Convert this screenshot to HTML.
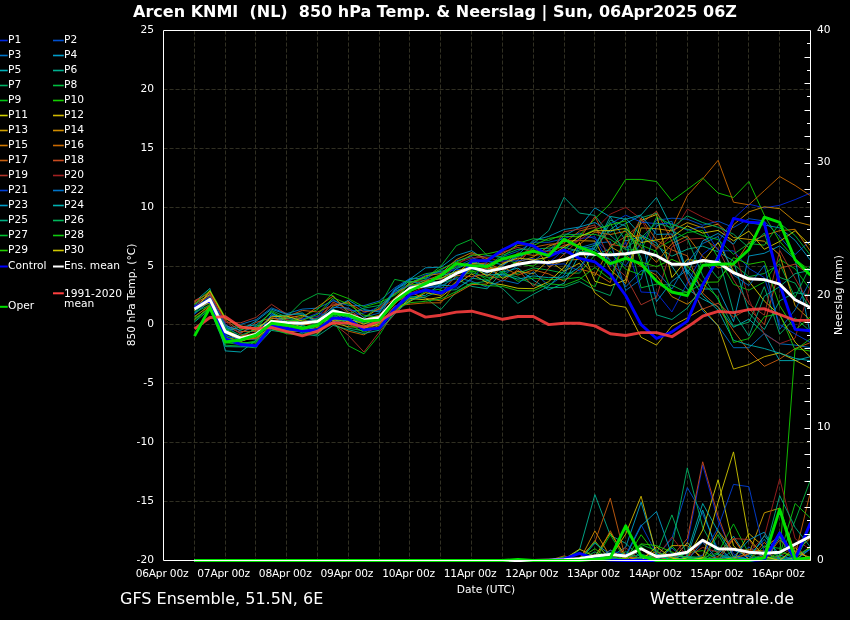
<!DOCTYPE html>
<html lang="nl"><head><meta charset="utf-8"><title>Arcen KNMI (NL) 850 hPa Temp. &amp; Neerslag</title>
<style>html,body{margin:0;padding:0;background:#000;}body{width:850px;height:620px;overflow:hidden;}svg{display:block;}text{font-family:"DejaVu Sans","Liberation Sans",sans-serif;fill:#fff;}</style></head><body>
<svg width="850" height="620" viewBox="0 0 850 620">
<rect width="850" height="620" fill="#000"/>
<g stroke="#302f22" stroke-width="1" stroke-dasharray="4.1,1.9" fill="none"><line x1="194.5" y1="30.5" x2="194.5" y2="560.5"/><line x1="225.5" y1="30.5" x2="225.5" y2="560.5"/><line x1="255.5" y1="30.5" x2="255.5" y2="560.5"/><line x1="286.5" y1="30.5" x2="286.5" y2="560.5"/><line x1="317.5" y1="30.5" x2="317.5" y2="560.5"/><line x1="348.5" y1="30.5" x2="348.5" y2="560.5"/><line x1="379.5" y1="30.5" x2="379.5" y2="560.5"/><line x1="409.5" y1="30.5" x2="409.5" y2="560.5"/><line x1="440.5" y1="30.5" x2="440.5" y2="560.5"/><line x1="471.5" y1="30.5" x2="471.5" y2="560.5"/><line x1="502.5" y1="30.5" x2="502.5" y2="560.5"/><line x1="533.5" y1="30.5" x2="533.5" y2="560.5"/><line x1="564.5" y1="30.5" x2="564.5" y2="560.5"/><line x1="594.5" y1="30.5" x2="594.5" y2="560.5"/><line x1="625.5" y1="30.5" x2="625.5" y2="560.5"/><line x1="656.5" y1="30.5" x2="656.5" y2="560.5"/><line x1="687.5" y1="30.5" x2="687.5" y2="560.5"/><line x1="718.5" y1="30.5" x2="718.5" y2="560.5"/><line x1="748.5" y1="30.5" x2="748.5" y2="560.5"/><line x1="779.5" y1="30.5" x2="779.5" y2="560.5"/><line x1="163.5" y1="89.5" x2="810.5" y2="89.5"/><line x1="163.5" y1="148.5" x2="810.5" y2="148.5"/><line x1="163.5" y1="207.5" x2="810.5" y2="207.5"/><line x1="163.5" y1="266.5" x2="810.5" y2="266.5"/><line x1="163.5" y1="324.5" x2="810.5" y2="324.5"/><line x1="163.5" y1="383.5" x2="810.5" y2="383.5"/><line x1="163.5" y1="442.5" x2="810.5" y2="442.5"/><line x1="163.5" y1="501.5" x2="810.5" y2="501.5"/></g>
<clipPath id="c"><rect x="163.5" y="29.5" width="647.5" height="534.0"/></clipPath>
<g clip-path="url(#c)">
<polyline points="194.5,560.5 209.9,560.5 225.3,560.5 240.7,560.5 256.1,560.5 271.5,560.5 286.9,560.5 302.3,560.5 317.7,560.5 333.1,560.5 348.5,560.5 363.9,560.5 379.3,560.5 394.7,560.5 410.1,560.5 425.5,560.5 440.9,560.5 456.3,560.5 471.7,560.5 487.1,560.5 502.5,560.5 517.9,560.5 533.3,560.5 548.7,560.5 564.1,560.5 579.5,560.5 594.9,560.4 610.3,560.5 625.7,559.1 641.1,560.0 656.5,557.3 671.9,559.2 687.3,543.3 702.7,465.1 718.1,520.8 733.5,553.9 748.9,560.5 764.3,560.5 779.7,558.5 795.1,560.4 810.5,560.5" fill="none" stroke="#0028e0" stroke-width="0.9" stroke-linejoin="round"/>
<polyline points="194.5,560.5 209.9,560.5 225.3,560.5 240.7,560.5 256.1,560.5 271.5,560.5 286.9,560.5 302.3,560.5 317.7,560.5 333.1,560.5 348.5,560.5 363.9,560.5 379.3,560.5 394.7,560.5 410.1,560.5 425.5,560.5 440.9,560.5 456.3,560.5 471.7,560.5 487.1,560.5 502.5,560.5 517.9,560.5 533.3,560.5 548.7,560.5 564.1,560.5 579.5,560.5 594.9,560.3 610.3,559.5 625.7,560.2 641.1,560.5 656.5,556.5 671.9,538.6 687.3,487.6 702.7,514.1 718.1,549.9 733.5,559.8 748.9,547.0 764.3,557.4 779.7,560.5 795.1,558.9 810.5,559.7" fill="none" stroke="#0050d0" stroke-width="0.9" stroke-linejoin="round"/>
<polyline points="194.5,560.5 209.9,560.5 225.3,560.5 240.7,560.5 256.1,560.5 271.5,560.5 286.9,560.5 302.3,560.5 317.7,560.5 333.1,560.5 348.5,560.5 363.9,560.5 379.3,560.5 394.7,560.5 410.1,560.5 425.5,560.5 440.9,560.5 456.3,560.5 471.7,560.5 487.1,560.5 502.5,560.5 517.9,560.5 533.3,560.5 548.7,560.5 564.1,560.4 579.5,560.5 594.9,560.5 610.3,560.5 625.7,560.5 641.1,548.8 656.5,560.5 671.9,548.0 687.3,560.5 702.7,560.5 718.1,560.5 733.5,550.3 748.9,556.5 764.3,560.5 779.7,558.4 795.1,559.4 810.5,557.1" fill="none" stroke="#0074c8" stroke-width="0.9" stroke-linejoin="round"/>
<polyline points="194.5,560.5 209.9,560.5 225.3,560.5 240.7,560.5 256.1,560.5 271.5,560.5 286.9,560.5 302.3,560.5 317.7,560.5 333.1,560.5 348.5,560.5 363.9,560.5 379.3,560.5 394.7,560.5 410.1,560.5 425.5,560.5 440.9,560.5 456.3,560.5 471.7,560.5 487.1,560.5 502.5,560.5 517.9,560.5 533.3,560.5 548.7,560.5 564.1,560.5 579.5,557.4 594.9,560.4 610.3,556.7 625.7,547.2 641.1,502.2 656.5,553.9 671.9,560.5 687.3,557.3 702.7,560.5 718.1,560.5 733.5,558.2 748.9,559.2 764.3,560.5 779.7,537.4 795.1,560.5 810.5,548.9" fill="none" stroke="#009cc8" stroke-width="0.9" stroke-linejoin="round"/>
<polyline points="194.5,560.5 209.9,560.5 225.3,560.5 240.7,560.5 256.1,560.5 271.5,560.5 286.9,560.5 302.3,560.5 317.7,560.5 333.1,560.5 348.5,560.5 363.9,560.5 379.3,560.5 394.7,560.5 410.1,560.5 425.5,560.5 440.9,560.5 456.3,560.5 471.7,560.5 487.1,560.5 502.5,560.5 517.9,560.5 533.3,560.5 548.7,560.5 564.1,558.3 579.5,560.5 594.9,560.5 610.3,552.4 625.7,560.5 641.1,560.5 656.5,560.5 671.9,560.5 687.3,556.5 702.7,510.1 718.1,553.9 733.5,536.2 748.9,560.2 764.3,559.3 779.7,531.7 795.1,559.9 810.5,548.4" fill="none" stroke="#00b0b8" stroke-width="0.9" stroke-linejoin="round"/>
<polyline points="194.5,560.5 209.9,560.5 225.3,560.5 240.7,560.5 256.1,560.5 271.5,560.5 286.9,560.5 302.3,560.5 317.7,560.5 333.1,560.5 348.5,560.5 363.9,560.5 379.3,560.5 394.7,560.5 410.1,560.5 425.5,560.5 440.9,560.5 456.3,560.5 471.7,560.5 487.1,560.5 502.5,560.5 517.9,560.5 533.3,560.5 548.7,560.5 564.1,560.5 579.5,549.9 594.9,494.6 610.3,535.3 625.7,543.3 641.1,557.9 656.5,560.5 671.9,560.5 687.3,558.1 702.7,560.5 718.1,546.8 733.5,560.5 748.9,560.5 764.3,560.5 779.7,560.5 795.1,550.8 810.5,558.3" fill="none" stroke="#00b090" stroke-width="0.9" stroke-linejoin="round"/>
<polyline points="194.5,560.5 209.9,560.5 225.3,560.5 240.7,560.5 256.1,560.5 271.5,560.5 286.9,560.5 302.3,560.5 317.7,560.5 333.1,560.5 348.5,560.5 363.9,560.5 379.3,560.5 394.7,560.5 410.1,560.5 425.5,560.5 440.9,560.5 456.3,560.5 471.7,560.5 487.1,560.5 502.5,560.5 517.9,560.5 533.3,560.5 548.7,560.5 564.1,560.5 579.5,560.5 594.9,560.5 610.3,559.6 625.7,558.4 641.1,554.3 656.5,557.9 671.9,547.2 687.3,467.8 702.7,527.4 718.1,555.2 733.5,559.9 748.9,560.5 764.3,560.5 779.7,559.4 795.1,557.3 810.5,546.8" fill="none" stroke="#00b064" stroke-width="0.9" stroke-linejoin="round"/>
<polyline points="194.5,560.5 209.9,560.5 225.3,560.5 240.7,560.5 256.1,560.5 271.5,560.5 286.9,560.5 302.3,560.5 317.7,560.5 333.1,560.5 348.5,560.5 363.9,560.5 379.3,560.5 394.7,560.5 410.1,560.5 425.5,560.5 440.9,560.5 456.3,560.5 471.7,560.5 487.1,560.5 502.5,560.5 517.9,560.5 533.3,560.5 548.7,560.5 564.1,560.5 579.5,560.5 594.9,558.3 610.3,560.5 625.7,560.5 641.1,560.5 656.5,560.5 671.9,557.7 687.3,560.5 702.7,560.5 718.1,560.5 733.5,557.6 748.9,560.5 764.3,560.0 779.7,557.9 795.1,520.8 810.5,479.7" fill="none" stroke="#00bc40" stroke-width="0.9" stroke-linejoin="round"/>
<polyline points="194.5,560.5 209.9,560.5 225.3,560.5 240.7,560.5 256.1,560.5 271.5,560.5 286.9,560.5 302.3,560.5 317.7,560.5 333.1,560.5 348.5,560.5 363.9,560.5 379.3,560.5 394.7,560.5 410.1,560.5 425.5,560.5 440.9,560.5 456.3,560.5 471.7,560.5 487.1,560.5 502.5,560.5 517.9,560.5 533.3,560.5 548.7,560.5 564.1,557.3 579.5,560.5 594.9,560.5 610.3,534.7 625.7,560.5 641.1,547.0 656.5,560.5 671.9,546.1 687.3,560.5 702.7,558.4 718.1,552.5 733.5,523.9 748.9,553.9 764.3,560.5 779.7,557.3 795.1,560.5 810.5,560.5" fill="none" stroke="#00c414" stroke-width="0.9" stroke-linejoin="round"/>
<polyline points="194.5,560.5 209.9,560.5 225.3,560.5 240.7,560.5 256.1,560.5 271.5,560.5 286.9,560.5 302.3,560.5 317.7,560.5 333.1,560.5 348.5,560.5 363.9,560.5 379.3,560.5 394.7,560.5 410.1,560.5 425.5,560.5 440.9,560.5 456.3,560.5 471.7,560.5 487.1,560.5 502.5,560.5 517.9,560.5 533.3,560.5 548.7,560.5 564.1,560.5 579.5,560.5 594.9,560.5 610.3,557.3 625.7,560.0 641.1,534.7 656.5,555.0 671.9,558.5 687.3,552.7 702.7,550.6 718.1,559.6 733.5,559.0 748.9,559.2 764.3,557.9 779.7,556.5 795.1,348.5 810.5,351.1" fill="none" stroke="#14d000" stroke-width="0.9" stroke-linejoin="round"/>
<polyline points="194.5,560.5 209.9,560.5 225.3,560.5 240.7,560.5 256.1,560.5 271.5,560.5 286.9,560.5 302.3,560.5 317.7,560.5 333.1,560.5 348.5,560.5 363.9,560.5 379.3,560.5 394.7,560.5 410.1,560.5 425.5,560.5 440.9,560.5 456.3,560.5 471.7,560.5 487.1,560.5 502.5,560.5 517.9,560.5 533.3,560.5 548.7,560.5 564.1,559.2 579.5,549.2 594.9,556.5 610.3,532.7 625.7,556.5 641.1,560.5 656.5,560.5 671.9,560.5 687.3,557.9 702.7,530.0 718.1,479.7 733.5,545.9 748.9,559.2 764.3,560.5 779.7,560.3 795.1,557.9 810.5,560.5" fill="none" stroke="#d0d000" stroke-width="0.9" stroke-linejoin="round"/>
<polyline points="194.5,560.5 209.9,560.5 225.3,560.5 240.7,560.5 256.1,560.5 271.5,560.5 286.9,560.5 302.3,560.5 317.7,560.5 333.1,560.5 348.5,560.5 363.9,560.5 379.3,560.5 394.7,560.5 410.1,560.5 425.5,560.5 440.9,560.5 456.3,560.5 471.7,560.5 487.1,560.5 502.5,560.5 517.9,560.5 533.3,560.5 548.7,560.5 564.1,560.5 579.5,560.5 594.9,559.8 610.3,557.9 625.7,534.0 641.1,496.2 656.5,555.2 671.9,560.5 687.3,542.5 702.7,560.5 718.1,560.5 733.5,560.5 748.9,533.5 764.3,547.3 779.7,536.2 795.1,552.4 810.5,557.4" fill="none" stroke="#d0b800" stroke-width="0.9" stroke-linejoin="round"/>
<polyline points="194.5,560.5 209.9,560.5 225.3,560.5 240.7,560.5 256.1,560.5 271.5,560.5 286.9,560.5 302.3,560.5 317.7,560.5 333.1,560.5 348.5,560.5 363.9,560.5 379.3,560.5 394.7,560.5 410.1,560.5 425.5,560.5 440.9,560.5 456.3,560.5 471.7,560.5 487.1,560.5 502.5,560.5 517.9,560.5 533.3,560.5 548.7,560.5 564.1,560.5 579.5,560.5 594.9,560.5 610.3,550.1 625.7,559.1 641.1,560.5 656.5,560.4 671.9,545.6 687.3,545.6 702.7,557.8 718.1,560.4 733.5,557.9 748.9,553.9 764.3,512.8 779.7,508.2 795.1,552.5 810.5,538.0" fill="none" stroke="#d0a000" stroke-width="0.9" stroke-linejoin="round"/>
<polyline points="194.5,560.5 209.9,560.5 225.3,560.5 240.7,560.5 256.1,560.5 271.5,560.5 286.9,560.5 302.3,560.5 317.7,560.5 333.1,560.5 348.5,560.5 363.9,560.5 379.3,560.5 394.7,560.5 410.1,560.5 425.5,560.5 440.9,560.5 456.3,560.5 471.7,560.5 487.1,560.5 502.5,560.5 517.9,560.5 533.3,560.5 548.7,560.5 564.1,560.5 579.5,560.5 594.9,530.9 610.3,556.7 625.7,557.0 641.1,560.5 656.5,559.1 671.9,560.5 687.3,560.5 702.7,560.0 718.1,530.8 733.5,550.3 748.9,549.9 764.3,551.0 779.7,560.5 795.1,560.5 810.5,560.5" fill="none" stroke="#d08c00" stroke-width="0.9" stroke-linejoin="round"/>
<polyline points="194.5,560.5 209.9,560.5 225.3,560.5 240.7,560.5 256.1,560.5 271.5,560.5 286.9,560.5 302.3,560.5 317.7,560.5 333.1,560.5 348.5,560.5 363.9,560.5 379.3,560.5 394.7,560.5 410.1,560.5 425.5,560.5 440.9,560.5 456.3,560.5 471.7,560.5 487.1,560.5 502.5,560.5 517.9,560.5 533.3,560.5 548.7,560.5 564.1,560.5 579.5,560.5 594.9,540.6 610.3,560.5 625.7,557.9 641.1,557.4 656.5,551.5 671.9,560.5 687.3,560.4 702.7,560.5 718.1,558.1 733.5,560.5 748.9,560.5 764.3,555.6 779.7,560.5 795.1,560.5 810.5,545.9" fill="none" stroke="#d07800" stroke-width="0.9" stroke-linejoin="round"/>
<polyline points="194.5,560.5 209.9,560.5 225.3,560.5 240.7,560.5 256.1,560.5 271.5,560.5 286.9,560.5 302.3,560.5 317.7,560.5 333.1,560.5 348.5,560.5 363.9,560.5 379.3,560.5 394.7,560.5 410.1,560.5 425.5,560.5 440.9,560.5 456.3,560.5 471.7,560.5 487.1,560.5 502.5,560.5 517.9,560.5 533.3,560.5 548.7,560.5 564.1,560.5 579.5,560.5 594.9,560.5 610.3,530.7 625.7,559.6 641.1,560.5 656.5,560.5 671.9,560.5 687.3,560.5 702.7,560.5 718.1,556.6 733.5,538.7 748.9,560.5 764.3,542.3 779.7,558.4 795.1,560.5 810.5,559.1" fill="none" stroke="#c86800" stroke-width="0.9" stroke-linejoin="round"/>
<polyline points="194.5,560.5 209.9,560.5 225.3,560.5 240.7,560.5 256.1,560.5 271.5,560.5 286.9,560.5 302.3,560.5 317.7,560.5 333.1,560.5 348.5,560.5 363.9,560.5 379.3,560.5 394.7,560.5 410.1,560.5 425.5,560.5 440.9,560.5 456.3,560.5 471.7,560.5 487.1,560.5 502.5,560.5 517.9,560.5 533.3,560.5 548.7,560.5 564.1,560.5 579.5,557.9 594.9,542.0 610.3,498.2 625.7,559.2 641.1,560.5 656.5,560.5 671.9,556.9 687.3,560.5 702.7,557.8 718.1,560.5 733.5,539.0 748.9,560.5 764.3,560.0 779.7,539.9 795.1,555.2 810.5,491.6" fill="none" stroke="#c86010" stroke-width="0.9" stroke-linejoin="round"/>
<polyline points="194.5,560.5 209.9,560.5 225.3,560.5 240.7,560.5 256.1,560.5 271.5,560.5 286.9,560.5 302.3,560.5 317.7,560.5 333.1,560.5 348.5,560.5 363.9,560.5 379.3,560.5 394.7,560.5 410.1,560.5 425.5,560.5 440.9,560.5 456.3,560.5 471.7,560.5 487.1,560.5 502.5,560.5 517.9,560.5 533.3,560.5 548.7,560.5 564.1,555.9 579.5,560.5 594.9,560.5 610.3,560.5 625.7,560.5 641.1,548.9 656.5,560.4 671.9,556.5 687.3,538.6 702.7,461.8 718.1,516.0 733.5,557.9 748.9,560.5 764.3,560.0 779.7,534.2 795.1,560.5 810.5,559.9" fill="none" stroke="#c84c20" stroke-width="0.9" stroke-linejoin="round"/>
<polyline points="194.5,560.5 209.9,560.5 225.3,560.5 240.7,560.5 256.1,560.5 271.5,560.5 286.9,560.5 302.3,560.5 317.7,560.5 333.1,560.5 348.5,560.5 363.9,560.5 379.3,560.5 394.7,560.5 410.1,560.5 425.5,560.5 440.9,560.5 456.3,560.5 471.7,560.5 487.1,560.5 502.5,560.5 517.9,560.5 533.3,560.5 548.7,560.5 564.1,560.5 579.5,560.5 594.9,560.5 610.3,558.7 625.7,560.2 641.1,560.5 656.5,557.2 671.9,555.9 687.3,556.8 702.7,547.4 718.1,552.3 733.5,538.5 748.9,539.6 764.3,560.5 779.7,556.8 795.1,545.5 810.5,560.5" fill="none" stroke="#b03428" stroke-width="0.9" stroke-linejoin="round"/>
<polyline points="194.5,560.5 209.9,560.5 225.3,560.5 240.7,560.5 256.1,560.5 271.5,560.5 286.9,560.5 302.3,560.5 317.7,560.5 333.1,560.5 348.5,560.5 363.9,560.5 379.3,560.5 394.7,560.5 410.1,560.5 425.5,560.5 440.9,560.5 456.3,560.5 471.7,560.5 487.1,560.5 502.5,560.5 517.9,560.5 533.3,560.5 548.7,560.5 564.1,560.5 579.5,558.6 594.9,556.2 610.3,560.5 625.7,547.8 641.1,560.5 656.5,556.9 671.9,537.1 687.3,556.7 702.7,541.5 718.1,560.5 733.5,560.5 748.9,552.5 764.3,536.6 779.7,478.7 795.1,538.6 810.5,549.9" fill="none" stroke="#a02020" stroke-width="0.9" stroke-linejoin="round"/>
<polyline points="194.5,560.5 209.9,560.5 225.3,560.5 240.7,560.5 256.1,560.5 271.5,560.5 286.9,560.5 302.3,560.5 317.7,560.5 333.1,560.5 348.5,560.5 363.9,560.5 379.3,560.5 394.7,560.5 410.1,560.5 425.5,560.5 440.9,560.5 456.3,560.5 471.7,560.5 487.1,560.5 502.5,560.5 517.9,560.5 533.3,560.5 548.7,560.5 564.1,560.5 579.5,560.5 594.9,560.5 610.3,550.3 625.7,555.2 641.1,524.7 656.5,553.9 671.9,560.5 687.3,560.5 702.7,555.2 718.1,527.4 733.5,484.4 748.9,486.7 764.3,552.5 779.7,560.5 795.1,555.7 810.5,549.4" fill="none" stroke="#0040d8" stroke-width="0.9" stroke-linejoin="round"/>
<polyline points="194.5,560.5 209.9,560.5 225.3,560.5 240.7,560.5 256.1,560.5 271.5,560.5 286.9,560.5 302.3,560.5 317.7,560.5 333.1,560.5 348.5,560.5 363.9,560.5 379.3,560.5 394.7,560.5 410.1,560.5 425.5,560.5 440.9,560.5 456.3,560.5 471.7,560.5 487.1,560.5 502.5,560.5 517.9,560.5 533.3,560.5 548.7,560.5 564.1,560.5 579.5,560.5 594.9,557.7 610.3,557.2 625.7,560.5 641.1,560.1 656.5,560.5 671.9,560.5 687.3,560.5 702.7,542.1 718.1,560.5 733.5,560.5 748.9,555.6 764.3,539.3 779.7,560.5 795.1,560.5 810.5,558.0" fill="none" stroke="#0074c8" stroke-width="0.9" stroke-linejoin="round"/>
<polyline points="194.5,560.5 209.9,560.5 225.3,560.5 240.7,560.5 256.1,560.5 271.5,560.5 286.9,560.5 302.3,560.5 317.7,560.5 333.1,560.5 348.5,560.5 363.9,560.5 379.3,560.5 394.7,560.5 410.1,560.5 425.5,560.5 440.9,560.5 456.3,560.5 471.7,560.5 487.1,560.5 502.5,560.5 517.9,560.5 533.3,560.5 548.7,560.5 564.1,560.5 579.5,560.5 594.9,543.2 610.3,554.5 625.7,556.5 641.1,526.0 656.5,511.5 671.9,555.2 687.3,556.8 702.7,559.7 718.1,558.3 733.5,557.1 748.9,539.9 764.3,532.2 779.7,558.9 795.1,560.5 810.5,560.5" fill="none" stroke="#009cc8" stroke-width="0.9" stroke-linejoin="round"/>
<polyline points="194.5,560.5 209.9,560.5 225.3,560.5 240.7,560.5 256.1,560.5 271.5,560.5 286.9,560.5 302.3,560.5 317.7,560.5 333.1,560.5 348.5,560.5 363.9,560.5 379.3,560.5 394.7,560.5 410.1,560.5 425.5,560.5 440.9,560.5 456.3,560.5 471.7,560.5 487.1,560.5 502.5,560.5 517.9,560.5 533.3,560.5 548.7,560.5 564.1,560.5 579.5,560.5 594.9,560.2 610.3,560.5 625.7,560.5 641.1,560.5 656.5,553.8 671.9,560.3 687.3,552.5 702.7,503.5 718.1,531.4 733.5,556.5 748.9,559.3 764.3,535.6 779.7,555.0 795.1,560.5 810.5,560.5" fill="none" stroke="#00b0b0" stroke-width="0.9" stroke-linejoin="round"/>
<polyline points="194.5,560.5 209.9,560.5 225.3,560.5 240.7,560.5 256.1,560.5 271.5,560.5 286.9,560.5 302.3,560.5 317.7,560.5 333.1,560.5 348.5,560.5 363.9,560.5 379.3,560.5 394.7,560.5 410.1,560.5 425.5,560.5 440.9,560.5 456.3,560.5 471.7,560.5 487.1,560.5 502.5,560.5 517.9,560.5 533.3,560.5 548.7,560.5 564.1,560.5 579.5,560.5 594.9,556.9 610.3,558.8 625.7,560.5 641.1,557.7 656.5,558.6 671.9,556.5 687.3,560.3 702.7,560.5 718.1,553.9 733.5,558.9 748.9,560.4 764.3,553.9 779.7,495.6 795.1,527.4 810.5,547.2" fill="none" stroke="#00b084" stroke-width="0.9" stroke-linejoin="round"/>
<polyline points="194.5,560.5 209.9,560.5 225.3,560.5 240.7,560.5 256.1,560.5 271.5,560.5 286.9,560.5 302.3,560.5 317.7,560.5 333.1,560.5 348.5,560.5 363.9,560.5 379.3,560.5 394.7,560.5 410.1,560.5 425.5,560.5 440.9,560.5 456.3,560.5 471.7,560.5 487.1,560.5 502.5,560.5 517.9,560.5 533.3,560.5 548.7,560.5 564.1,560.5 579.5,560.5 594.9,551.8 610.3,560.5 625.7,551.6 641.1,558.8 656.5,553.9 671.9,514.9 687.3,556.5 702.7,557.5 718.1,560.4 733.5,559.2 748.9,560.5 764.3,557.1 779.7,559.0 795.1,560.5 810.5,531.2" fill="none" stroke="#00b85c" stroke-width="0.9" stroke-linejoin="round"/>
<polyline points="194.5,560.5 209.9,560.5 225.3,560.5 240.7,560.5 256.1,560.5 271.5,560.5 286.9,560.5 302.3,560.5 317.7,560.5 333.1,560.5 348.5,560.5 363.9,560.5 379.3,560.5 394.7,560.5 410.1,560.5 425.5,560.5 440.9,560.5 456.3,560.5 471.7,560.5 487.1,560.5 502.5,560.5 517.9,560.5 533.3,560.5 548.7,560.5 564.1,560.5 579.5,560.5 594.9,541.6 610.3,560.5 625.7,560.5 641.1,544.5 656.5,550.6 671.9,560.5 687.3,560.5 702.7,560.5 718.1,534.6 733.5,560.5 748.9,560.5 764.3,545.9 779.7,548.4 795.1,560.5 810.5,560.5" fill="none" stroke="#00c030" stroke-width="0.9" stroke-linejoin="round"/>
<polyline points="194.5,560.5 209.9,560.5 225.3,560.5 240.7,560.5 256.1,560.5 271.5,560.5 286.9,560.5 302.3,560.5 317.7,560.5 333.1,560.5 348.5,560.5 363.9,560.5 379.3,560.5 394.7,560.5 410.1,560.5 425.5,560.5 440.9,560.5 456.3,560.5 471.7,560.5 487.1,560.5 502.5,560.5 517.9,560.5 533.3,560.5 548.7,560.5 564.1,556.9 579.5,560.5 594.9,560.5 610.3,556.1 625.7,560.0 641.1,546.0 656.5,560.3 671.9,560.5 687.3,560.5 702.7,560.0 718.1,558.7 733.5,560.5 748.9,560.5 764.3,560.5 779.7,555.2 795.1,503.5 810.5,518.1" fill="none" stroke="#10c810" stroke-width="0.9" stroke-linejoin="round"/>
<polyline points="194.5,560.5 209.9,560.5 225.3,560.5 240.7,560.5 256.1,560.5 271.5,560.5 286.9,560.5 302.3,560.5 317.7,560.5 333.1,560.5 348.5,560.5 363.9,560.5 379.3,560.5 394.7,560.5 410.1,560.5 425.5,560.5 440.9,560.5 456.3,560.5 471.7,560.5 487.1,560.5 502.5,560.5 517.9,560.5 533.3,560.5 548.7,560.5 564.1,560.5 579.5,558.5 594.9,548.7 610.3,560.5 625.7,557.8 641.1,543.8 656.5,545.6 671.9,552.1 687.3,558.1 702.7,558.1 718.1,560.5 733.5,559.0 748.9,560.5 764.3,560.5 779.7,552.1 795.1,556.6 810.5,547.7" fill="none" stroke="#24d000" stroke-width="0.9" stroke-linejoin="round"/>
<polyline points="194.5,560.5 209.9,560.5 225.3,560.5 240.7,560.5 256.1,560.5 271.5,560.5 286.9,560.5 302.3,560.5 317.7,560.5 333.1,560.5 348.5,560.5 363.9,560.5 379.3,560.5 394.7,560.5 410.1,560.5 425.5,560.5 440.9,560.5 456.3,560.5 471.7,560.5 487.1,560.5 502.5,560.5 517.9,560.5 533.3,560.5 548.7,560.5 564.1,560.5 579.5,560.5 594.9,560.5 610.3,560.5 625.7,560.5 641.1,560.5 656.5,546.8 671.9,558.0 687.3,560.5 702.7,557.9 718.1,502.2 733.5,451.9 748.9,538.6 764.3,556.5 779.7,560.5 795.1,547.6 810.5,560.5" fill="none" stroke="#d0c800" stroke-width="0.9" stroke-linejoin="round"/>
<polyline points="194.5,314.4 209.9,300.8 225.3,334.7 240.7,343.1 256.1,345.4 271.5,325.1 286.9,322.5 302.3,329.0 317.7,332.1 333.1,314.9 348.5,315.4 363.9,313.1 379.3,306.8 394.7,292.3 410.1,283.4 425.5,274.8 440.9,272.5 456.3,269.6 471.7,269.2 487.1,271.5 502.5,268.6 517.9,264.5 533.3,262.5 548.7,263.3 564.1,249.4 579.5,238.8 594.9,236.6 610.3,266.3 625.7,241.9 641.1,292.0 656.5,292.9 671.9,311.9 687.3,283.1 702.7,254.3 718.1,242.5 733.5,218.9 748.9,204.2 764.3,207.9 779.7,205.3 795.1,199.6 810.5,193.0" fill="none" stroke="#0028e0" stroke-width="0.9" stroke-linejoin="round"/>
<polyline points="194.5,308.3 209.9,297.5 225.3,333.9 240.7,338.2 256.1,339.9 271.5,313.8 286.9,318.9 302.3,318.5 317.7,316.5 333.1,299.3 348.5,310.3 363.9,310.7 379.3,310.7 394.7,289.0 410.1,279.2 425.5,277.8 440.9,279.3 456.3,266.7 471.7,259.1 487.1,255.5 502.5,256.8 517.9,251.2 533.3,242.2 548.7,242.3 564.1,238.6 579.5,233.0 594.9,238.8 610.3,253.7 625.7,265.9 641.1,242.8 656.5,220.2 671.9,218.2 687.3,219.2 702.7,225.2 718.1,221.2 733.5,227.5 748.9,218.7 764.3,221.0 779.7,236.9 795.1,254.5 810.5,240.5" fill="none" stroke="#0050d0" stroke-width="0.9" stroke-linejoin="round"/>
<polyline points="194.5,304.9 209.9,294.1 225.3,329.6 240.7,324.4 256.1,319.7 271.5,307.9 286.9,313.6 302.3,309.1 317.7,308.1 333.1,300.7 348.5,305.6 363.9,305.6 379.3,301.0 394.7,287.9 410.1,278.3 425.5,278.8 440.9,270.2 456.3,260.9 471.7,256.6 487.1,269.7 502.5,275.8 517.9,265.4 533.3,261.2 548.7,249.9 564.1,253.5 579.5,247.9 594.9,243.3 610.3,241.7 625.7,290.4 641.1,279.2 656.5,225.8 671.9,221.3 687.3,276.7 702.7,310.8 718.1,325.7 733.5,347.7 748.9,347.7 764.3,333.4 779.7,343.8 795.1,345.1 810.5,347.7" fill="none" stroke="#0074c8" stroke-width="0.9" stroke-linejoin="round"/>
<polyline points="194.5,313.4 209.9,301.4 225.3,326.8 240.7,332.5 256.1,326.1 271.5,323.3 286.9,328.1 302.3,329.9 317.7,329.7 333.1,313.2 348.5,318.0 363.9,320.0 379.3,316.8 394.7,290.4 410.1,279.0 425.5,267.8 440.9,267.2 456.3,255.5 471.7,250.7 487.1,261.3 502.5,264.8 517.9,256.4 533.3,252.3 548.7,250.7 564.1,235.7 579.5,227.3 594.9,207.9 610.3,216.9 625.7,240.9 641.1,236.8 656.5,301.7 671.9,281.3 687.3,269.9 702.7,289.0 718.1,289.0 733.5,321.6 748.9,256.0 764.3,253.3 779.7,245.9 795.1,259.3 810.5,335.1" fill="none" stroke="#009cc8" stroke-width="0.9" stroke-linejoin="round"/>
<polyline points="194.5,301.9 209.9,288.4 225.3,350.9 240.7,352.0 256.1,340.3 271.5,330.2 286.9,326.4 302.3,332.9 317.7,325.4 333.1,311.2 348.5,317.0 363.9,323.2 379.3,322.7 394.7,307.0 410.1,297.2 425.5,295.3 440.9,283.9 456.3,268.7 471.7,262.4 487.1,265.5 502.5,272.1 517.9,268.1 533.3,280.1 548.7,289.8 564.1,283.2 579.5,254.1 594.9,247.5 610.3,229.7 625.7,218.2 641.1,235.3 656.5,242.9 671.9,266.1 687.3,289.0 702.7,299.1 718.1,306.7 733.5,327.3 748.9,319.1 764.3,333.4 779.7,360.6 795.1,360.6 810.5,356.7" fill="none" stroke="#00b0b8" stroke-width="0.9" stroke-linejoin="round"/>
<polyline points="194.5,305.6 209.9,303.4 225.3,331.5 240.7,339.9 256.1,332.2 271.5,315.9 286.9,315.2 302.3,312.9 317.7,323.6 333.1,309.3 348.5,314.4 363.9,320.8 379.3,320.1 394.7,300.4 410.1,286.7 425.5,279.7 440.9,282.9 456.3,278.8 471.7,286.4 487.1,288.8 502.5,271.7 517.9,260.2 533.3,243.7 548.7,230.7 564.1,197.3 579.5,213.1 594.9,215.4 610.3,235.4 625.7,248.4 641.1,236.9 656.5,245.7 671.9,256.2 687.3,249.2 702.7,246.1 718.1,251.8 733.5,260.9 748.9,313.0 764.3,329.5 779.7,300.8 795.1,292.6 810.5,295.1" fill="none" stroke="#00b090" stroke-width="0.9" stroke-linejoin="round"/>
<polyline points="194.5,310.3 209.9,298.5 225.3,333.1 240.7,338.5 256.1,334.2 271.5,323.8 286.9,329.9 302.3,331.9 317.7,334.7 333.1,318.0 348.5,328.2 363.9,330.9 379.3,327.9 394.7,311.3 410.1,297.0 425.5,298.0 440.9,309.5 456.3,292.0 471.7,283.6 487.1,281.2 502.5,273.3 517.9,277.1 533.3,284.3 548.7,287.7 564.1,287.4 579.5,281.5 594.9,289.9 610.3,295.6 625.7,255.8 641.1,217.8 656.5,213.2 671.9,230.8 687.3,238.4 702.7,275.6 718.1,299.6 733.5,326.3 748.9,322.2 764.3,286.7 779.7,334.2 795.1,317.9 810.5,331.4" fill="none" stroke="#00b064" stroke-width="0.9" stroke-linejoin="round"/>
<polyline points="194.5,312.5 209.9,304.9 225.3,345.2 240.7,346.1 256.1,347.9 271.5,323.1 286.9,316.7 302.3,301.4 317.7,293.6 333.1,295.5 348.5,313.2 363.9,330.8 379.3,322.6 394.7,309.9 410.1,288.1 425.5,282.3 440.9,277.6 456.3,276.3 471.7,272.6 487.1,277.3 502.5,277.2 517.9,273.2 533.3,267.9 548.7,270.1 564.1,273.2 579.5,273.1 594.9,255.1 610.3,248.9 625.7,228.7 641.1,287.8 656.5,284.2 671.9,285.2 687.3,292.8 702.7,259.2 718.1,278.4 733.5,264.3 748.9,276.7 764.3,273.5 779.7,263.9 795.1,297.4 810.5,265.3" fill="none" stroke="#00bc40" stroke-width="0.9" stroke-linejoin="round"/>
<polyline points="194.5,317.4 209.9,304.1 225.3,338.9 240.7,343.8 256.1,340.9 271.5,319.4 286.9,328.9 302.3,326.5 317.7,317.8 333.1,320.2 348.5,345.8 363.9,353.8 379.3,335.2 394.7,310.8 410.1,300.7 425.5,291.4 440.9,289.0 456.3,273.2 471.7,270.2 487.1,279.8 502.5,271.1 517.9,281.3 533.3,278.0 548.7,279.7 564.1,279.1 579.5,277.3 594.9,287.0 610.3,251.3 625.7,269.4 641.1,274.9 656.5,248.6 671.9,240.4 687.3,232.5 702.7,230.5 718.1,257.9 733.5,284.3 748.9,290.2 764.3,282.0 779.7,259.4 795.1,268.8 810.5,290.1" fill="none" stroke="#00c414" stroke-width="0.9" stroke-linejoin="round"/>
<polyline points="194.5,309.2 209.9,298.0 225.3,328.7 240.7,337.5 256.1,337.1 271.5,327.2 286.9,323.1 302.3,316.4 317.7,309.4 333.1,292.8 348.5,298.6 363.9,306.9 379.3,302.5 394.7,295.3 410.1,284.1 425.5,285.4 440.9,281.4 456.3,273.6 471.7,271.4 487.1,270.5 502.5,258.2 517.9,263.9 533.3,266.0 548.7,255.8 564.1,249.6 579.5,235.4 594.9,218.9 610.3,203.6 625.7,179.4 641.1,179.4 656.5,181.5 671.9,200.9 687.3,189.5 702.7,178.1 718.1,193.0 733.5,197.5 748.9,181.5 764.3,215.1 779.7,241.3 795.1,259.0 810.5,270.8" fill="none" stroke="#14d000" stroke-width="0.9" stroke-linejoin="round"/>
<polyline points="194.5,309.0 209.9,299.5 225.3,332.4 240.7,341.1 256.1,336.3 271.5,320.8 286.9,321.8 302.3,327.3 317.7,333.4 333.1,319.2 348.5,321.4 363.9,328.4 379.3,323.7 394.7,312.5 410.1,298.5 425.5,299.8 440.9,297.2 456.3,284.7 471.7,273.9 487.1,282.6 502.5,284.8 517.9,288.3 533.3,288.7 548.7,281.7 564.1,267.4 579.5,242.5 594.9,281.3 610.3,285.8 625.7,279.9 641.1,220.4 656.5,214.5 671.9,277.5 687.3,259.2 702.7,262.2 718.1,242.6 733.5,271.0 748.9,281.1 764.3,301.0 779.7,315.1 795.1,342.1 810.5,357.1" fill="none" stroke="#d0d000" stroke-width="0.9" stroke-linejoin="round"/>
<polyline points="194.5,303.6 209.9,294.8 225.3,330.3 240.7,336.9 256.1,328.4 271.5,318.6 286.9,318.2 302.3,315.3 317.7,320.0 333.1,311.7 348.5,322.7 363.9,326.2 379.3,325.7 394.7,309.1 410.1,301.3 425.5,292.7 440.9,295.4 456.3,281.6 471.7,263.5 487.1,264.2 502.5,278.6 517.9,271.3 533.3,273.8 548.7,260.5 564.1,271.2 579.5,263.1 594.9,292.9 610.3,304.7 625.7,307.3 641.1,337.3 656.5,345.1 671.9,326.1 687.3,317.9 702.7,308.5 718.1,325.7 733.5,369.1 748.9,364.5 764.3,356.7 779.7,352.9 795.1,360.3 810.5,368.4" fill="none" stroke="#d0b800" stroke-width="0.9" stroke-linejoin="round"/>
<polyline points="194.5,319.6 209.9,306.5 225.3,341.3 240.7,340.5 256.1,338.0 271.5,326.5 286.9,331.8 302.3,330.9 317.7,327.4 333.1,322.8 348.5,326.8 363.9,327.3 379.3,321.0 394.7,304.1 410.1,289.7 425.5,287.1 440.9,282.2 456.3,274.3 471.7,260.2 487.1,267.8 502.5,269.3 517.9,262.0 533.3,257.0 548.7,246.2 564.1,240.8 579.5,240.7 594.9,241.1 610.3,269.5 625.7,283.4 641.1,227.9 656.5,228.7 671.9,230.9 687.3,222.6 702.7,227.8 718.1,224.2 733.5,237.5 748.9,239.4 764.3,241.2 779.7,254.9 795.1,305.8 810.5,320.4" fill="none" stroke="#d0a000" stroke-width="0.9" stroke-linejoin="round"/>
<polyline points="194.5,309.6 209.9,302.7 225.3,337.8 240.7,341.7 256.1,334.5 271.5,322.7 286.9,322.7 302.3,322.6 317.7,320.7 333.1,306.1 348.5,301.5 363.9,318.0 379.3,308.2 394.7,293.4 410.1,284.8 425.5,275.8 440.9,273.6 456.3,259.6 471.7,252.6 487.1,258.6 502.5,253.7 517.9,245.4 533.3,243.9 548.7,266.6 564.1,260.5 579.5,259.3 594.9,275.7 610.3,246.5 625.7,255.4 641.1,266.4 656.5,275.4 671.9,296.6 687.3,304.2 702.7,292.4 718.1,255.2 733.5,224.8 748.9,211.9 764.3,206.8 779.7,208.7 795.1,221.5 810.5,225.4" fill="none" stroke="#d08c00" stroke-width="0.9" stroke-linejoin="round"/>
<polyline points="194.5,316.4 209.9,305.7 225.3,340.1 240.7,336.1 256.1,333.0 271.5,321.5 286.9,324.9 302.3,317.5 317.7,306.8 333.1,296.1 348.5,312.2 363.9,319.4 379.3,315.1 394.7,300.0 410.1,292.5 425.5,298.2 440.9,300.9 456.3,293.4 471.7,284.6 487.1,284.1 502.5,264.7 517.9,253.0 533.3,255.4 548.7,253.6 564.1,245.1 579.5,244.4 594.9,232.0 610.3,234.5 625.7,231.3 641.1,247.7 656.5,262.3 671.9,243.6 687.3,235.9 702.7,256.6 718.1,267.8 733.5,265.7 748.9,242.5 764.3,235.4 779.7,230.7 795.1,229.3 810.5,251.3" fill="none" stroke="#d07800" stroke-width="0.9" stroke-linejoin="round"/>
<polyline points="194.5,306.2 209.9,295.6 225.3,331.8 240.7,338.0 256.1,338.9 271.5,328.0 286.9,325.6 302.3,323.8 317.7,326.4 333.1,324.1 348.5,331.2 363.9,334.9 379.3,324.7 394.7,306.0 410.1,304.2 425.5,302.9 440.9,302.8 456.3,283.1 471.7,268.4 487.1,268.8 502.5,266.7 517.9,275.1 533.3,269.8 548.7,273.9 564.1,281.2 579.5,269.0 594.9,272.9 610.3,282.6 625.7,236.6 641.1,235.7 656.5,248.4 671.9,228.4 687.3,195.7 702.7,178.9 718.1,160.3 733.5,202.2 748.9,204.8 764.3,190.7 779.7,176.5 795.1,185.4 810.5,195.7" fill="none" stroke="#c86800" stroke-width="0.9" stroke-linejoin="round"/>
<polyline points="194.5,302.1 209.9,291.7 225.3,320.0 240.7,331.5 256.1,331.4 271.5,321.3 286.9,316.8 302.3,310.4 317.7,312.0 333.1,304.9 348.5,302.9 363.9,311.9 379.3,309.5 394.7,298.7 410.1,281.8 425.5,280.6 440.9,274.6 456.3,264.5 471.7,264.4 487.1,262.9 502.5,270.1 517.9,263.1 533.3,247.3 548.7,244.3 564.1,243.0 579.5,231.0 594.9,227.3 610.3,244.1 625.7,247.1 641.1,218.0 656.5,240.1 671.9,249.9 687.3,255.8 702.7,293.1 718.1,307.3 733.5,330.8 748.9,350.9 764.3,366.3 779.7,359.1 795.1,348.5 810.5,342.6" fill="none" stroke="#c86010" stroke-width="0.9" stroke-linejoin="round"/>
<polyline points="194.5,300.6 209.9,293.3 225.3,324.7 240.7,333.5 256.1,322.4 271.5,317.8 286.9,320.2 302.3,325.0 317.7,321.3 333.1,302.2 348.5,309.2 363.9,320.3 379.3,317.7 394.7,302.5 410.1,294.8 425.5,289.1 440.9,293.7 456.3,275.2 471.7,276.7 487.1,273.9 502.5,281.6 517.9,269.6 533.3,286.5 548.7,268.3 564.1,254.1 579.5,239.0 594.9,216.6 610.3,246.0 625.7,236.6 641.1,223.7 656.5,211.3 671.9,241.0 687.3,280.2 702.7,309.1 718.1,303.2 733.5,317.0 748.9,308.5 764.3,324.7 779.7,268.4 795.1,264.1 810.5,275.3" fill="none" stroke="#c84c20" stroke-width="0.9" stroke-linejoin="round"/>
<polyline points="194.5,301.4 209.9,292.6 225.3,322.4 240.7,322.8 256.1,317.4 271.5,304.3 286.9,314.3 302.3,319.4 317.7,324.4 333.1,323.2 348.5,335.5 363.9,352.0 379.3,332.0 394.7,314.1 410.1,286.2 425.5,283.8 440.9,276.6 456.3,265.6 471.7,254.0 487.1,260.1 502.5,252.1 517.9,247.4 533.3,252.2 548.7,255.4 564.1,231.8 579.5,229.0 594.9,224.9 610.3,263.0 625.7,276.4 641.1,304.8 656.5,297.3 671.9,246.7 687.3,239.2 702.7,238.3 718.1,248.7 733.5,279.6 748.9,303.9 764.3,315.2 779.7,250.4 795.1,278.3 810.5,305.0" fill="none" stroke="#b03428" stroke-width="0.9" stroke-linejoin="round"/>
<polyline points="194.5,302.9 209.9,296.9 225.3,321.2 240.7,334.4 256.1,335.6 271.5,322.2 286.9,319.5 302.3,323.1 317.7,317.5 333.1,303.6 348.5,313.1 363.9,325.1 379.3,329.1 394.7,310.2 410.1,293.6 425.5,286.3 440.9,280.7 456.3,263.3 471.7,257.9 487.1,257.1 502.5,262.3 517.9,259.4 533.3,250.6 548.7,251.8 564.1,245.8 579.5,240.1 594.9,229.5 610.3,214.1 625.7,207.4 641.1,218.9 656.5,249.7 671.9,235.2 687.3,209.1 702.7,217.1 718.1,223.7 733.5,245.6 748.9,299.3 764.3,334.2 779.7,343.7 795.1,338.1 810.5,285.2" fill="none" stroke="#a02020" stroke-width="0.9" stroke-linejoin="round"/>
<polyline points="194.5,307.8 209.9,296.2 225.3,323.6 240.7,339.0 256.1,335.0 271.5,325.8 286.9,321.3 302.3,319.5 317.7,313.1 333.1,317.0 348.5,314.8 363.9,318.8 379.3,318.7 394.7,299.4 410.1,288.4 425.5,285.7 440.9,287.6 456.3,288.0 471.7,279.7 487.1,261.5 502.5,261.0 517.9,260.8 533.3,258.5 548.7,264.9 564.1,263.8 579.5,271.1 594.9,243.0 610.3,223.7 625.7,215.2 641.1,222.1 656.5,223.7 671.9,223.7 687.3,230.1 702.7,226.5 718.1,250.7 733.5,250.9 748.9,268.4 764.3,277.6 779.7,324.6 795.1,334.0 810.5,342.4" fill="none" stroke="#0040d8" stroke-width="0.9" stroke-linejoin="round"/>
<polyline points="194.5,307.3 209.9,300.3 225.3,335.7 240.7,339.4 256.1,333.7 271.5,314.8 286.9,323.6 302.3,322.0 317.7,318.4 333.1,307.3 348.5,308.0 363.9,317.1 379.3,313.1 394.7,291.3 410.1,285.5 425.5,288.0 440.9,286.2 456.3,277.5 471.7,281.3 487.1,287.2 502.5,280.1 517.9,283.6 533.3,271.8 548.7,285.7 564.1,275.1 579.5,246.2 594.9,249.6 610.3,259.8 625.7,286.9 641.1,270.7 656.5,271.0 671.9,289.0 687.3,262.5 702.7,243.5 718.1,236.5 733.5,275.0 748.9,285.6 764.3,265.4 779.7,329.4 795.1,309.8 810.5,280.2" fill="none" stroke="#0074c8" stroke-width="0.9" stroke-linejoin="round"/>
<polyline points="194.5,306.8 209.9,299.0 225.3,325.8 240.7,330.4 256.1,321.1 271.5,309.2 286.9,314.4 302.3,314.1 317.7,322.1 333.1,308.4 348.5,300.1 363.9,309.5 379.3,311.9 394.7,290.2 410.1,281.0 425.5,284.9 440.9,285.0 456.3,286.3 471.7,265.3 487.1,273.0 502.5,265.8 517.9,254.7 533.3,240.4 548.7,236.4 564.1,229.5 579.5,227.0 594.9,222.5 610.3,232.1 625.7,223.4 641.1,215.5 656.5,234.4 671.9,234.0 687.3,273.7 702.7,240.9 718.1,233.4 733.5,244.2 748.9,222.8 764.3,225.0 779.7,227.9 795.1,240.3 810.5,260.4" fill="none" stroke="#009cc8" stroke-width="0.9" stroke-linejoin="round"/>
<polyline points="194.5,311.7 209.9,299.8 225.3,331.0 240.7,326.9 256.1,324.9 271.5,312.7 286.9,322.2 302.3,325.7 317.7,330.9 333.1,321.6 348.5,320.2 363.9,321.5 379.3,319.4 394.7,303.3 410.1,287.3 425.5,283.1 440.9,275.7 456.3,272.1 471.7,267.3 487.1,274.9 502.5,274.5 517.9,279.2 533.3,275.9 548.7,277.7 564.1,277.1 579.5,267.0 594.9,247.4 610.3,216.4 625.7,219.3 641.1,214.9 656.5,197.5 671.9,227.9 687.3,271.8 702.7,295.7 718.1,310.2 733.5,340.3 748.9,345.0 764.3,348.5 779.7,353.2 795.1,358.3 810.5,360.8" fill="none" stroke="#00b0b0" stroke-width="0.9" stroke-linejoin="round"/>
<polyline points="194.5,322.0 209.9,309.2 225.3,346.6 240.7,346.9 256.1,346.6 271.5,330.4 286.9,332.8 302.3,333.9 317.7,336.0 333.1,325.4 348.5,329.7 363.9,333.5 379.3,330.2 394.7,313.7 410.1,299.9 425.5,296.8 440.9,290.5 456.3,289.7 471.7,278.1 487.1,280.3 502.5,288.4 517.9,303.4 533.3,294.3 548.7,286.1 564.1,270.8 579.5,249.6 594.9,245.4 610.3,220.1 625.7,226.1 641.1,257.9 656.5,314.8 671.9,319.5 687.3,308.1 702.7,285.7 718.1,254.9 733.5,312.3 748.9,335.9 764.3,296.2 779.7,286.6 795.1,273.6 810.5,270.3" fill="none" stroke="#00b084" stroke-width="0.9" stroke-linejoin="round"/>
<polyline points="194.5,308.6 209.9,299.3 225.3,327.8 240.7,335.3 256.1,329.4 271.5,310.4 286.9,317.5 302.3,323.4 317.7,319.3 333.1,310.2 348.5,313.8 363.9,308.2 379.3,305.4 394.7,294.4 410.1,280.1 425.5,273.7 440.9,271.4 456.3,267.7 471.7,261.4 487.1,266.6 502.5,255.2 517.9,249.3 533.3,249.0 548.7,248.1 564.1,247.3 579.5,251.3 594.9,251.5 610.3,222.5 625.7,258.9 641.1,237.8 656.5,223.0 671.9,227.7 687.3,215.9 702.7,222.6 718.1,227.3 733.5,234.2 748.9,247.7 764.3,233.1 779.7,277.4 795.1,283.1 810.5,309.4" fill="none" stroke="#00b85c" stroke-width="0.9" stroke-linejoin="round"/>
<polyline points="194.5,320.8 209.9,307.4 225.3,342.6 240.7,344.6 256.1,342.0 271.5,324.5 286.9,330.8 302.3,328.1 317.7,322.8 333.1,314.0 348.5,325.3 363.9,317.9 379.3,306.1 394.7,279.4 410.1,282.5 425.5,278.1 440.9,266.1 456.3,245.7 471.7,239.2 487.1,255.5 502.5,257.6 517.9,243.3 533.3,238.7 548.7,240.4 564.1,234.1 579.5,234.9 594.9,234.3 610.3,239.3 625.7,249.7 641.1,250.2 656.5,217.3 671.9,224.5 687.3,229.2 702.7,235.7 718.1,239.6 733.5,254.3 748.9,243.5 764.3,245.2 779.7,223.3 795.1,235.5 810.5,255.4" fill="none" stroke="#00c030" stroke-width="0.9" stroke-linejoin="round"/>
<polyline points="194.5,318.5 209.9,308.3 225.3,336.7 240.7,342.4 256.1,343.1 271.5,328.8 286.9,333.8 302.3,335.0 317.7,328.5 333.1,315.9 348.5,324.0 363.9,332.2 379.3,326.8 394.7,308.0 410.1,302.7 425.5,301.3 440.9,299.0 456.3,291.5 471.7,282.9 487.1,285.6 502.5,286.4 517.9,290.7 533.3,290.9 548.7,283.7 564.1,285.3 579.5,279.4 594.9,267.5 610.3,279.3 625.7,234.0 641.1,245.2 656.5,251.4 671.9,292.8 687.3,292.1 702.7,283.7 718.1,297.3 733.5,342.5 748.9,338.6 764.3,316.7 779.7,313.5 795.1,350.2 810.5,338.7" fill="none" stroke="#10c810" stroke-width="0.9" stroke-linejoin="round"/>
<polyline points="194.5,304.3 209.9,290.0 225.3,317.4 240.7,329.3 256.1,327.3 271.5,311.5 286.9,320.7 302.3,320.4 317.7,314.3 333.1,297.7 348.5,304.2 363.9,315.2 379.3,317.3 394.7,300.7 410.1,282.6 425.5,276.8 440.9,269.0 456.3,262.1 471.7,255.3 487.1,253.9 502.5,250.4 517.9,241.2 533.3,245.6 548.7,238.4 564.1,236.3 579.5,236.8 594.9,229.6 610.3,224.9 625.7,220.8 641.1,262.1 656.5,266.6 671.9,259.4 687.3,266.1 702.7,282.3 718.1,282.0 733.5,257.6 748.9,264.3 764.3,261.4 779.7,305.6 795.1,330.0 810.5,316.7" fill="none" stroke="#24d000" stroke-width="0.9" stroke-linejoin="round"/>
<polyline points="194.5,310.9 209.9,290.9 225.3,318.7 240.7,325.7 256.1,330.4 271.5,316.8 286.9,316.0 302.3,321.2 317.7,321.6 333.1,320.4 348.5,319.1 363.9,324.1 379.3,318.1 394.7,297.9 410.1,287.7 425.5,281.5 440.9,278.5 456.3,271.3 471.7,266.1 487.1,276.1 502.5,263.5 517.9,258.0 533.3,259.9 548.7,257.2 564.1,247.0 579.5,236.6 594.9,230.7 610.3,230.7 625.7,228.4 641.1,242.5 656.5,239.9 671.9,237.2 687.3,225.9 702.7,233.1 718.1,230.4 733.5,240.9 748.9,231.1 764.3,249.3 779.7,241.4 795.1,230.7 810.5,245.5" fill="none" stroke="#d0c800" stroke-width="0.9" stroke-linejoin="round"/>
<polyline points="194.5,560.5 209.9,560.5 225.3,560.5 240.7,560.5 256.1,560.5 271.5,560.5 286.9,560.5 302.3,560.5 317.7,560.5 333.1,560.5 348.5,560.5 363.9,560.5 379.3,560.5 394.7,560.5 410.1,560.5 425.5,560.5 440.9,560.5 456.3,560.5 471.7,560.5 487.1,560.5 502.5,560.5 517.9,560.5 533.3,560.5 548.7,560.5 564.1,558.9 579.5,553.3 594.9,558.6 610.3,560.1 625.7,560.5 641.1,560.5 656.5,560.5 671.9,560.5 687.3,560.5 702.7,560.5 718.1,560.5 733.5,560.5 748.9,560.5 764.3,559.4 779.7,532.9 795.1,559.2 810.5,522.7" fill="none" stroke="#0000ff" stroke-width="2.9" stroke-linejoin="round"/>
<polyline points="194.5,307.3 209.9,300.2 225.3,338.7 240.7,344.5 256.1,345.9 271.5,325.9 286.9,328.5 302.3,331.1 317.7,329.7 333.1,318.1 348.5,319.1 363.9,329.9 379.3,328.1 394.7,308.6 410.1,294.4 425.5,290.0 440.9,293.1 456.3,284.9 471.7,260.8 487.1,260.8 502.5,250.0 517.9,242.3 533.3,245.8 548.7,256.3 564.1,249.9 579.5,258.4 594.9,261.9 610.3,274.3 625.7,295.5 641.1,324.7 656.5,338.5 671.9,331.9 687.3,321.1 702.7,284.8 718.1,258.2 733.5,218.4 748.9,222.1 764.3,223.1 779.7,284.2 795.1,329.4 810.5,330.7" fill="none" stroke="#0000ff" stroke-width="2.9" stroke-linejoin="round"/>
<polyline points="194.5,560.5 209.9,560.5 225.3,560.5 240.7,560.5 256.1,560.5 271.5,560.5 286.9,560.5 302.3,560.5 317.7,560.5 333.1,560.5 348.5,560.5 363.9,560.5 379.3,560.5 394.7,560.5 410.1,560.5 425.5,560.5 440.9,560.5 456.3,560.5 471.7,560.5 487.1,560.5 502.5,560.5 517.9,560.5 533.3,560.5 548.7,560.1 564.1,559.7 579.5,558.6 594.9,556.0 610.3,554.4 625.7,556.0 641.1,548.8 656.5,556.5 671.9,554.9 687.3,552.2 702.7,540.2 718.1,548.7 733.5,549.2 748.9,552.2 764.3,553.2 779.7,552.2 795.1,544.2 810.5,536.4" fill="none" stroke="#ffffff" stroke-width="2.9" stroke-linejoin="round"/>
<polyline points="194.5,309.0 209.9,299.4 225.3,331.7 240.7,338.1 256.1,334.4 271.5,321.4 286.9,322.6 302.3,323.3 317.7,321.4 333.1,311.0 348.5,314.6 363.9,320.1 379.3,317.5 394.7,300.6 410.1,288.2 425.5,285.5 440.9,282.0 456.3,273.4 471.7,267.5 487.1,271.4 502.5,268.4 517.9,264.2 533.3,261.8 548.7,262.6 564.1,259.8 579.5,253.5 594.9,254.2 610.3,254.9 625.7,253.7 641.1,251.5 656.5,255.7 671.9,264.2 687.3,264.2 702.7,260.5 718.1,262.5 733.5,272.7 748.9,278.8 764.3,279.6 779.7,284.2 795.1,299.7 810.5,307.5" fill="none" stroke="#ffffff" stroke-width="2.9" stroke-linejoin="round"/>
<polyline points="194.5,328.8 209.9,317.5 225.3,316.6 240.7,327.2 256.1,328.6 271.5,327.5 286.9,331.7 302.3,335.8 317.7,331.1 333.1,322.6 348.5,323.1 363.9,327.2 379.3,321.1 394.7,312.1 410.1,310.0 425.5,317.1 440.9,315.2 456.3,312.1 471.7,311.2 487.1,315.2 502.5,319.3 517.9,316.5 533.3,316.5 548.7,324.6 564.1,323.3 579.5,323.3 594.9,325.9 610.3,333.7 625.7,335.5 641.1,332.6 656.5,332.6 671.9,336.7 687.3,327.1 702.7,316.2 718.1,311.4 733.5,312.6 748.9,309.6 764.3,308.8 779.7,314.5 795.1,320.4 810.5,320.4" fill="none" stroke="#ff4040" stroke-width="2.9" stroke-linejoin="round" stroke-opacity="0.88"/>
<polyline points="194.5,560.5 209.9,560.5 225.3,560.5 240.7,560.5 256.1,560.5 271.5,560.5 286.9,560.5 302.3,560.5 317.7,560.5 333.1,560.5 348.5,560.5 363.9,560.5 379.3,560.5 394.7,560.5 410.1,560.5 425.5,560.5 440.9,560.5 456.3,560.5 471.7,560.5 487.1,560.5 502.5,560.5 517.9,559.4 533.3,560.5 548.7,560.5 564.1,560.5 579.5,560.5 594.9,559.2 610.3,557.9 625.7,525.8 641.1,555.9 656.5,560.5 671.9,560.5 687.3,560.5 702.7,560.5 718.1,560.5 733.5,560.5 748.9,560.5 764.3,557.9 779.7,509.2 795.1,559.2 810.5,557.9" fill="none" stroke="#00e000" stroke-width="2.9" stroke-linejoin="round"/>
<polyline points="194.5,336.1 209.9,307.7 225.3,342.0 240.7,340.0 256.1,335.2 271.5,323.3 286.9,325.2 302.3,328.5 317.7,325.2 333.1,313.6 348.5,315.2 363.9,321.1 379.3,320.1 394.7,301.5 410.1,290.8 425.5,283.7 440.9,275.5 456.3,263.7 471.7,265.6 487.1,266.5 502.5,258.8 517.9,254.9 533.3,251.2 548.7,255.6 564.1,239.2 579.5,247.2 594.9,253.1 610.3,263.7 625.7,258.3 641.1,263.7 656.5,281.1 671.9,292.0 687.3,295.6 702.7,265.3 718.1,264.2 733.5,263.7 748.9,249.6 764.3,217.2 779.7,222.4 795.1,259.7 810.5,275.2" fill="none" stroke="#00e000" stroke-width="2.9" stroke-linejoin="round"/>
</g>
<path d="M163.5 30.5H810.5V560.5H163.5Z" fill="none" stroke="#fff" stroke-width="1"/>
<g stroke="#fff" stroke-width="1"><line x1="807.0" y1="547.5" x2="810.5" y2="547.5"/><line x1="804.5" y1="534.5" x2="810.5" y2="534.5"/><line x1="807.0" y1="520.5" x2="810.5" y2="520.5"/><line x1="804.5" y1="507.5" x2="810.5" y2="507.5"/><line x1="807.0" y1="494.5" x2="810.5" y2="494.5"/><line x1="804.5" y1="481.5" x2="810.5" y2="481.5"/><line x1="807.0" y1="467.5" x2="810.5" y2="467.5"/><line x1="804.5" y1="454.5" x2="810.5" y2="454.5"/><line x1="807.0" y1="441.5" x2="810.5" y2="441.5"/><line x1="804.5" y1="428.5" x2="810.5" y2="428.5"/><line x1="807.0" y1="414.5" x2="810.5" y2="414.5"/><line x1="804.5" y1="401.5" x2="810.5" y2="401.5"/><line x1="807.0" y1="388.5" x2="810.5" y2="388.5"/><line x1="804.5" y1="375.5" x2="810.5" y2="375.5"/><line x1="807.0" y1="361.5" x2="810.5" y2="361.5"/><line x1="804.5" y1="348.5" x2="810.5" y2="348.5"/><line x1="807.0" y1="335.5" x2="810.5" y2="335.5"/><line x1="804.5" y1="322.5" x2="810.5" y2="322.5"/><line x1="807.0" y1="308.5" x2="810.5" y2="308.5"/><line x1="804.5" y1="295.5" x2="810.5" y2="295.5"/><line x1="807.0" y1="282.5" x2="810.5" y2="282.5"/><line x1="804.5" y1="269.5" x2="810.5" y2="269.5"/><line x1="807.0" y1="255.5" x2="810.5" y2="255.5"/><line x1="804.5" y1="242.5" x2="810.5" y2="242.5"/><line x1="807.0" y1="229.5" x2="810.5" y2="229.5"/><line x1="804.5" y1="216.5" x2="810.5" y2="216.5"/><line x1="807.0" y1="202.5" x2="810.5" y2="202.5"/><line x1="804.5" y1="189.5" x2="810.5" y2="189.5"/><line x1="807.0" y1="176.5" x2="810.5" y2="176.5"/><line x1="804.5" y1="163.5" x2="810.5" y2="163.5"/><line x1="807.0" y1="149.5" x2="810.5" y2="149.5"/><line x1="804.5" y1="136.5" x2="810.5" y2="136.5"/><line x1="807.0" y1="123.5" x2="810.5" y2="123.5"/><line x1="804.5" y1="110.5" x2="810.5" y2="110.5"/><line x1="807.0" y1="96.5" x2="810.5" y2="96.5"/><line x1="804.5" y1="83.5" x2="810.5" y2="83.5"/><line x1="807.0" y1="70.5" x2="810.5" y2="70.5"/><line x1="804.5" y1="57.5" x2="810.5" y2="57.5"/><line x1="807.0" y1="43.5" x2="810.5" y2="43.5"/></g>
<text x="435" y="17" font-size="16" font-weight="bold" text-anchor="middle" style="white-space:pre">Arcen KNMI  (NL)  850 hPa Temp. &amp; Neerslag | Sun, 06Apr2025 06Z</text>
<text x="154" y="33.0" font-size="10.67" text-anchor="end">25</text>
<text x="154" y="91.9" font-size="10.67" text-anchor="end">20</text>
<text x="154" y="150.8" font-size="10.67" text-anchor="end">15</text>
<text x="154" y="209.7" font-size="10.67" text-anchor="end">10</text>
<text x="154" y="268.6" font-size="10.67" text-anchor="end">5</text>
<text x="154" y="327.4" font-size="10.67" text-anchor="end">0</text>
<text x="154" y="386.3" font-size="10.67" text-anchor="end">-5</text>
<text x="154" y="445.2" font-size="10.67" text-anchor="end">-10</text>
<text x="154" y="504.1" font-size="10.67" text-anchor="end">-15</text>
<text x="154" y="563.0" font-size="10.67" text-anchor="end">-20</text>
<text x="817" y="32.7" font-size="10.67">40</text>
<text x="817" y="165.2" font-size="10.67">30</text>
<text x="817" y="297.7" font-size="10.67">20</text>
<text x="817" y="430.2" font-size="10.67">10</text>
<text x="817" y="562.7" font-size="10.67">0</text>
<text x="162.0" y="577" font-size="10.67" letter-spacing="-0.2" text-anchor="middle">06Apr 00z</text>
<text x="223.6" y="577" font-size="10.67" letter-spacing="-0.2" text-anchor="middle">07Apr 00z</text>
<text x="285.2" y="577" font-size="10.67" letter-spacing="-0.2" text-anchor="middle">08Apr 00z</text>
<text x="346.9" y="577" font-size="10.67" letter-spacing="-0.2" text-anchor="middle">09Apr 00z</text>
<text x="408.5" y="577" font-size="10.67" letter-spacing="-0.2" text-anchor="middle">10Apr 00z</text>
<text x="470.1" y="577" font-size="10.67" letter-spacing="-0.2" text-anchor="middle">11Apr 00z</text>
<text x="531.7" y="577" font-size="10.67" letter-spacing="-0.2" text-anchor="middle">12Apr 00z</text>
<text x="593.3" y="577" font-size="10.67" letter-spacing="-0.2" text-anchor="middle">13Apr 00z</text>
<text x="655.0" y="577" font-size="10.67" letter-spacing="-0.2" text-anchor="middle">14Apr 00z</text>
<text x="716.6" y="577" font-size="10.67" letter-spacing="-0.2" text-anchor="middle">15Apr 00z</text>
<text x="778.2" y="577" font-size="10.67" letter-spacing="-0.2" text-anchor="middle">16Apr 00z</text>
<text x="486" y="593" font-size="10.67" text-anchor="middle">Date (UTC)</text>
<text transform="translate(135,295) rotate(-90)" font-size="10.67" text-anchor="middle">850 hPa Temp. (°C)</text>
<text transform="translate(842,295) rotate(-90)" font-size="10.67" text-anchor="middle">Neerslag (mm)</text>
<text x="120" y="604" font-size="16">GFS Ensemble, 51.5N, 6E</text>
<text x="650" y="604" font-size="16">Wetterzentrale.de</text>
<line x1="0" y1="40.5" x2="7.7" y2="40.5" stroke="#0028e0" stroke-width="1.6"/>
<text x="8" y="42.5" font-size="10.67">P1</text>
<line x1="53" y1="40.5" x2="63.8" y2="40.5" stroke="#0050d0" stroke-width="1.6"/>
<text x="64" y="42.5" font-size="10.67">P2</text>
<line x1="0" y1="55.5" x2="7.7" y2="55.5" stroke="#0074c8" stroke-width="1.6"/>
<text x="8" y="57.5" font-size="10.67">P3</text>
<line x1="53" y1="55.5" x2="63.8" y2="55.5" stroke="#009cc8" stroke-width="1.6"/>
<text x="64" y="57.5" font-size="10.67">P4</text>
<line x1="0" y1="70.5" x2="7.7" y2="70.5" stroke="#00b0b8" stroke-width="1.6"/>
<text x="8" y="72.5" font-size="10.67">P5</text>
<line x1="53" y1="70.5" x2="63.8" y2="70.5" stroke="#00b090" stroke-width="1.6"/>
<text x="64" y="72.5" font-size="10.67">P6</text>
<line x1="0" y1="85.5" x2="7.7" y2="85.5" stroke="#00b064" stroke-width="1.6"/>
<text x="8" y="87.5" font-size="10.67">P7</text>
<line x1="53" y1="85.5" x2="63.8" y2="85.5" stroke="#00bc40" stroke-width="1.6"/>
<text x="64" y="87.5" font-size="10.67">P8</text>
<line x1="0" y1="100.5" x2="7.7" y2="100.5" stroke="#00c414" stroke-width="1.6"/>
<text x="8" y="102.5" font-size="10.67">P9</text>
<line x1="53" y1="100.5" x2="63.8" y2="100.5" stroke="#14d000" stroke-width="1.6"/>
<text x="64" y="102.5" font-size="10.67">P10</text>
<line x1="0" y1="115.5" x2="7.7" y2="115.5" stroke="#d0d000" stroke-width="1.6"/>
<text x="8" y="117.5" font-size="10.67">P11</text>
<line x1="53" y1="115.5" x2="63.8" y2="115.5" stroke="#d0b800" stroke-width="1.6"/>
<text x="64" y="117.5" font-size="10.67">P12</text>
<line x1="0" y1="130.5" x2="7.7" y2="130.5" stroke="#d0a000" stroke-width="1.6"/>
<text x="8" y="132.5" font-size="10.67">P13</text>
<line x1="53" y1="130.5" x2="63.8" y2="130.5" stroke="#d08c00" stroke-width="1.6"/>
<text x="64" y="132.5" font-size="10.67">P14</text>
<line x1="0" y1="145.5" x2="7.7" y2="145.5" stroke="#d07800" stroke-width="1.6"/>
<text x="8" y="147.5" font-size="10.67">P15</text>
<line x1="53" y1="145.5" x2="63.8" y2="145.5" stroke="#c86800" stroke-width="1.6"/>
<text x="64" y="147.5" font-size="10.67">P16</text>
<line x1="0" y1="160.5" x2="7.7" y2="160.5" stroke="#c86010" stroke-width="1.6"/>
<text x="8" y="162.5" font-size="10.67">P17</text>
<line x1="53" y1="160.5" x2="63.8" y2="160.5" stroke="#c84c20" stroke-width="1.6"/>
<text x="64" y="162.5" font-size="10.67">P18</text>
<line x1="0" y1="175.5" x2="7.7" y2="175.5" stroke="#b03428" stroke-width="1.6"/>
<text x="8" y="177.5" font-size="10.67">P19</text>
<line x1="53" y1="175.5" x2="63.8" y2="175.5" stroke="#a02020" stroke-width="1.6"/>
<text x="64" y="177.5" font-size="10.67">P20</text>
<line x1="0" y1="190.5" x2="7.7" y2="190.5" stroke="#0040d8" stroke-width="1.6"/>
<text x="8" y="192.5" font-size="10.67">P21</text>
<line x1="53" y1="190.5" x2="63.8" y2="190.5" stroke="#0074c8" stroke-width="1.6"/>
<text x="64" y="192.5" font-size="10.67">P22</text>
<line x1="0" y1="205.5" x2="7.7" y2="205.5" stroke="#009cc8" stroke-width="1.6"/>
<text x="8" y="207.5" font-size="10.67">P23</text>
<line x1="53" y1="205.5" x2="63.8" y2="205.5" stroke="#00b0b0" stroke-width="1.6"/>
<text x="64" y="207.5" font-size="10.67">P24</text>
<line x1="0" y1="220.5" x2="7.7" y2="220.5" stroke="#00b084" stroke-width="1.6"/>
<text x="8" y="222.5" font-size="10.67">P25</text>
<line x1="53" y1="220.5" x2="63.8" y2="220.5" stroke="#00b85c" stroke-width="1.6"/>
<text x="64" y="222.5" font-size="10.67">P26</text>
<line x1="0" y1="235.5" x2="7.7" y2="235.5" stroke="#00c030" stroke-width="1.6"/>
<text x="8" y="237.5" font-size="10.67">P27</text>
<line x1="53" y1="235.5" x2="63.8" y2="235.5" stroke="#10c810" stroke-width="1.6"/>
<text x="64" y="237.5" font-size="10.67">P28</text>
<line x1="0" y1="250.5" x2="7.7" y2="250.5" stroke="#24d000" stroke-width="1.6"/>
<text x="8" y="252.5" font-size="10.67">P29</text>
<line x1="53" y1="250.5" x2="63.8" y2="250.5" stroke="#d0c800" stroke-width="1.6"/>
<text x="64" y="252.5" font-size="10.67">P30</text>
<line x1="0" y1="266.5" x2="7.7" y2="266.5" stroke="#0000ff" stroke-width="2"/>
<text x="8" y="268.5" font-size="10.67">Control</text>
<line x1="53" y1="266.5" x2="63.8" y2="266.5" stroke="#fff" stroke-width="2"/>
<text x="64" y="268.5" font-size="10.67">Ens. mean</text>
<line x1="53" y1="293.3" x2="63.8" y2="293.3" stroke="#ff4040" stroke-width="2"/>
<text x="64" y="297" font-size="10.67">1991-2020</text>
<text x="64" y="307.3" font-size="10.67">mean</text>
<line x1="0" y1="306.8" x2="7.7" y2="306.8" stroke="#00e000" stroke-width="2"/>
<text x="8" y="308.5" font-size="10.67">Oper</text>
</svg></body></html>
